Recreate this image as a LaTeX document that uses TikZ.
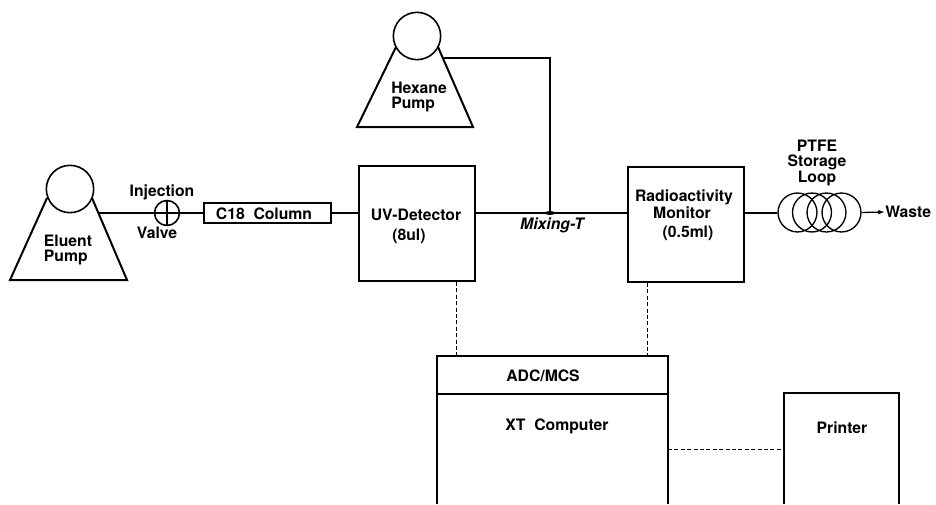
\documentclass[tikz,border=0pt]{standalone}
\usepackage{fontspec}
\setmainfont{TeX Gyre Heros}
\usetikzlibrary{arrows.meta}
\begin{document}
\begin{tikzpicture}[x=0.75pt,y=-0.75pt,
  ln/.style={line width=1.5pt,black},
  thin ln/.style={line width=1pt,black},
  dash ln/.style={line width=0.7pt,black,dash pattern=on 3pt off 1.8pt},
  blockbox/.style={draw,line width=1.6pt,inner sep=0},
  lbl/.style={font=\bfseries\fontsize{11.8}{11}\selectfont,align=center,inner sep=0},
  pumpcircle/.style={circle,draw,line width=1.2pt,minimum size=35.5pt,inner sep=0},
  coil/.style={circle,draw,line width=1pt,minimum size=29.2pt,inner sep=0}]
\useasboundingbox (0,0) rectangle (936,504);
% Eluent pump
\node[pumpcircle] (ec) at (70,189) {};
\draw[ln] (47,198) -- (10,280) -- (127,280) -- (92,198);
\coordinate (eout) at (99,213);
\node[lbl,align=left] (el) at (68,250) {Eluent\\Pump};
% Injection valve
\node[circle,draw,line width=1.2pt,minimum size=18.7pt,inner sep=0] (iv) at (167,213) {};
\draw[thin ln] (iv.north) -- (iv.south) (iv.west) -- (iv.east);
\node[lbl] (il) at (162,192) {Injection};
\node[lbl] (vl) at (157,233) {Valve};
% Column
\node[blockbox,minimum width=95pt,minimum height=15.5pt] (col) at (267.5,213) {};
\node[lbl] at (264,213.5) {C18\ \ Column};
% UV
\node[blockbox,minimum width=87pt,minimum height=86pt] (uv) at (417,223.5) {};
\node[lbl] at (416,215) {UV-Detector};
\node[lbl] at (409,236) {(8ul)};
% Hexane pump
\node[pumpcircle] (hc) at (417,36) {};
\draw[ln] (396,47) -- (357,127) -- (473,127) -- (438,47);
\coordinate (hout) at (443,58);
\node[lbl,align=left] at (419,97) {Hexane\\Pump};
% Mixing T
\coordinate (mix) at (550,213);
\node[lbl,font=\bfseries\itshape\fontsize{11.8}{11}\selectfont] at (552,225) {Mixing-T};
% Radioactivity
\node[blockbox,minimum width=87pt,minimum height=86pt] (rad) at (686,224.5) {};
\node[lbl] at (684,197) {Radioactivity};
\node[lbl] at (682,213) {Monitor};
\node[lbl] at (688,233) {(0.5ml)};
% Coil
\node[coil] (c1) at (797.5,212.5) {};
\node[coil] (c2) at (812,212.5) {};
\node[coil] (c3) at (826.5,212.5) {};
\node[coil] (c4) at (841.5,212.5) {};
\node[lbl] at (817,163) {PTFE\\Storage\\Loop};
\node[lbl,anchor=west] (w) at (885,212) {Waste};
% Solid lines
\draw[ln] (eout) -- (iv);
\draw[ln] (iv) -- (col);
\draw[ln] (col) -- (col.east -| uv.west);
\draw[ln] (mix -| uv.east) -- (mix -| rad.west);
\draw[ln] (hout) -| (mix);
\fill (mix) ellipse (5 and 2);
\draw[ln] (c1.west -| rad.east) -- (c1.west);
\draw[thin ln,-{Latex[length=5pt,width=3.5pt]}] (c4.east) -- (w.west);
% Computer
\coordinate (cbl) at (437,504);
\coordinate (cbr) at (668,504);
\coordinate (ctl) at (437,356);
\coordinate (ctr) at (668,356);
\draw[ln] (cbl) -- (ctl) -- (ctr) -- (cbr);
\coordinate (dl) at (437,394);
\coordinate (dr) at (668,394);
\draw[ln] (dl) -- (dr);
\node[lbl] at (543,376) {ADC/MCS};
\node[lbl] at (557,426) {XT\ \ Computer};
% Printer
\coordinate (pbl) at (784,504);
\coordinate (ptl) at (784,393);
\coordinate (ptr) at (899,393);
\coordinate (pbr) at (899,504);
\draw[ln] (pbl) -- (ptl) -- (ptr) -- (pbr);
\node[lbl] at (842,428) {Printer};
% Dashed
\coordinate (a1) at (456,356);
\coordinate (a2) at (647,356);
\coordinate (b1) at (668,449);
\draw[dash ln] (a1 |- uv.south) -- (a1);
\draw[dash ln] (a2 |- rad.south) -- (a2);
\draw[dash ln] (b1) -- (b1 -| pbl);
\end{tikzpicture}
\end{document}
